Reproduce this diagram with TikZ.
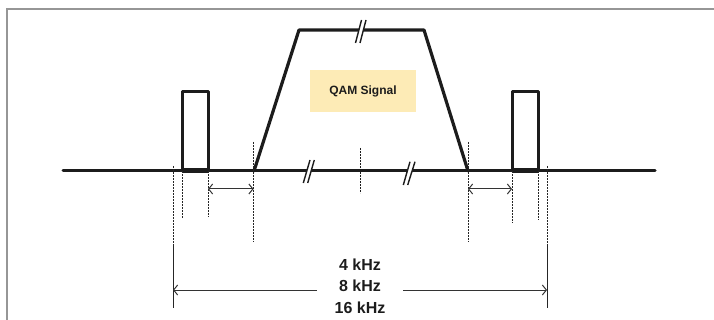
\documentclass[tikz,border=0pt]{standalone}
\usepackage{fontspec}
\setmainfont{Liberation Sans}
\usetikzlibrary{arrows.meta}
\definecolor{qamfill}{RGB}{253,235,182}
\definecolor{inkc}{RGB}{28,28,28}
\definecolor{framec}{RGB}{150,150,150}
\begin{document}
\begin{tikzpicture}[x=1pt,y=-1pt,
  thick line/.style={draw=inkc,line width=3pt,line join=round,line cap=round},
  guide/.style={draw=black!85,line width=1pt,dash pattern=on 2.5pt off 0.5pt},
  slash/.style={draw=inkc,line width=1.4pt},
  dimarrow/.style={draw=black!80,line width=1pt,{Straight Barb[length=4pt,width=10pt]}-{Straight Barb[length=4pt,width=10pt]}},
  onearrow/.style={draw=black!80,line width=1pt,-{Straight Barb[length=4pt,width=10pt]}},
  lbl/.style={font=\bfseries\fontsize{16}{18}\selectfont,text=inkc,inner ysep=0pt,inner xsep=22pt,anchor=base}]
\useasboundingbox (0,0) rectangle (714,320);
% frame
\draw[framec,line width=1.5pt] (7,320) -- (7,9) -- (714,9);
% key points
\coordinate (b0) at (63,171);
\coordinate (b1) at (655,171);
\coordinate (tl) at (254,171);
\coordinate (tlt) at (299,30);
\coordinate (trt) at (424,30);
\coordinate (tr) at (468,171);
% baseline
\draw[thick line] (b0) -- (b1);
% left and right pulse
\draw[thick line] (182,171) -- (182,92) -- (208,92) -- (208,171);
\draw[draw=inkc,line width=5pt] (182,171) -- (208,171);
\draw[thick line] (512,171) -- (512,92) -- (538,92) -- (538,171);
\draw[draw=inkc,line width=5pt] (512,171) -- (538,171);
% trapezoid
\draw[thick line,line width=3.2pt] (tl) -- (tlt) -- (trt) -- (tr);
% breaks on baseline
\fill[white] (303.3,183) -- (310,160) -- (314.3,160) -- (307.7,183) -- cycle;
\draw[slash] (303.3,183) -- (310,160);
\draw[slash] (307.7,183) -- (314.3,160);
\fill[white] (403.3,185) -- (410,161.7) -- (415,161.7) -- (407.7,185) -- cycle;
\draw[slash] (403.3,185) -- (410,161.7);
\draw[slash] (407.7,185) -- (415,161.7);
% break on top
\fill[white] (355.5,43) -- (361.5,20) -- (366,20) -- (360,43) -- cycle;
\draw[slash] (355.5,43) -- (361.5,20);
\draw[slash] (360,43) -- (366,20);
% centre tick
\draw[guide,draw=inkc] (360,148) -- (360,193);
% guides
\coordinate (gL1a) at (173,166); \coordinate (gL1b) at (173,308);
\coordinate (gR1a) at (547,166); \coordinate (gR1b) at (547,308);
\draw[guide] (gL1a) -- (gL1b);
\draw[guide] (182,171) -- (182,218);
\draw[guide] (208,171) -- (208,217);
\draw[guide] (253.5,142) -- (253.5,242);
\draw[guide] (468,142) -- (468,242);
\draw[guide] (512,171) -- (512,223);
\draw[guide] (538,171) -- (538,220);
\draw[guide] (gR1a) -- (gR1b);
% small dimension arrows
\coordinate (la) at (208,189); \coordinate (lb) at (253.5,189);
\coordinate (ra) at (468,189); \coordinate (rb) at (512,189);
\draw[dimarrow] (la) -- (lb);
\draw[dimarrow] (ra) -- (rb);
% QAM box
\node[fill=qamfill,minimum width=106pt,minimum height=42pt,inner sep=0pt,
  font=\bfseries\fontsize{12}{14}\selectfont,text=inkc] (qam) at (363,91) {QAM Signal};
% labels
\node[lbl] (k4) at (360,270) {4 kHz};
\node[lbl] (k8) at (360,291.7) {8 kHz};
\node[lbl] (k16) at (360,313.3) {16 kHz};
\coordinate (aL) at (173,290);
\coordinate (aR) at (547,290);
\draw[onearrow] (k8.west |- aL) -- (aL);
\draw[onearrow] (k8.east |- aR) -- (aR);
\end{tikzpicture}
\end{document}
